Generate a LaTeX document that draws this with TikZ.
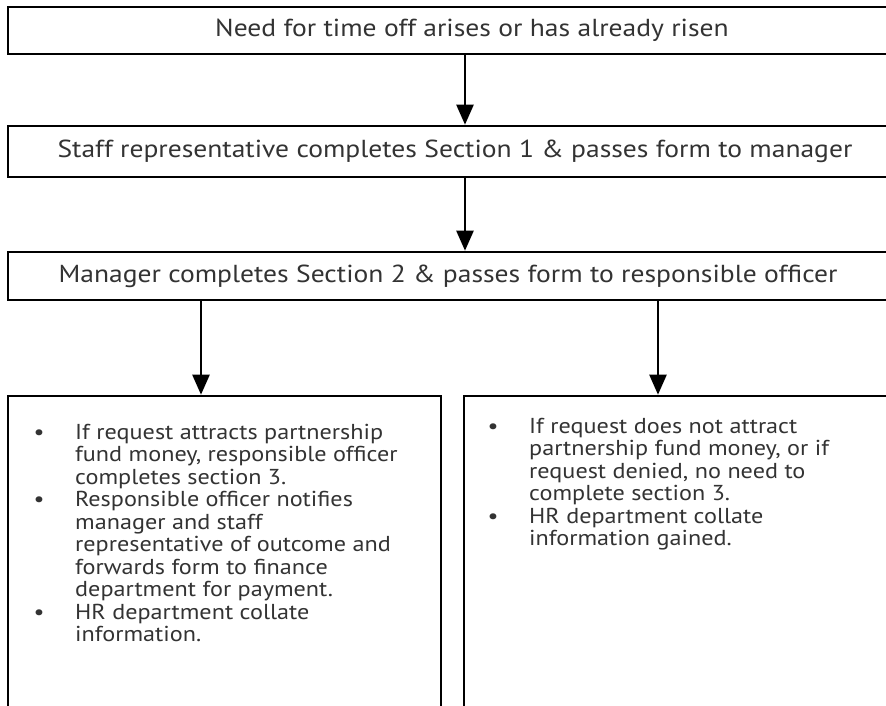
\documentclass[tikz,border=0pt]{standalone}
\usepackage{fontspec}
\setmainfont{PT Sans}[FakeStretch=1.12]
\usepackage{array}
\usetikzlibrary{arrows.meta}
\definecolor{txt}{RGB}{51,51,51}
\newcommand{\bulletmark}{\makebox[18pt]{•}}
\newcommand{\lline}[2]{#1 & \smash{#2}\\}
\begin{document}
\begin{tikzpicture}[x=1pt,y=-1pt,
  box/.style={draw=black, line width=2.6pt, inner sep=0pt},
  lbl/.style={text=txt, font=\fontsize{24.6}{30}\selectfont, inner sep=0pt},
  lst/.style={text=txt, font=\fontsize{21.6}{22.5}\selectfont, inner sep=0pt, anchor=north west},
  arr/.style={line width=2.4pt, -{Triangle[length=20pt,width=17pt]}}]
\useasboundingbox (0,0) rectangle (886,706);
\clip (0,0) rectangle (886,706);
\fill[white] (0,0) rectangle (886,706);
% boxes
\node[box, minimum width=914pt, minimum height=47pt] (box1) at (465,30.5) {};
\node[box, minimum width=914pt, minimum height=51pt] (box2) at (465,151.5) {};
\node[box, minimum width=914pt, minimum height=48pt] (box3) at (465,276) {};
\node[box, minimum width=433pt, minimum height=408pt] (lbox) at (224.5,600) {};
\node[box, minimum width=500pt, minimum height=408pt] (rbox) at (714,600) {};
% texts
\node[lbl] (t1) at (472,30.5) {Need for time off arises or has already risen};
\node[lbl] (t2) at (455,151.5) {Staff representative completes Section 1 \& passes form to manager};
\node[lbl] (t3) at (448,276) {Manager completes Section 2 \& passes form to responsible officer};
\node[lst] (ltx) at (30,423.25) {\begin{tabular}{@{}p{45pt}@{}l@{}}
\lline{\bulletmark}{If request attracts partnership}
\lline{}{fund money, responsible officer}
\lline{}{completes section 3.}
\lline{\bulletmark}{Responsible officer notifies}
\lline{}{manager and staff}
\lline{}{representative of outcome and}
\lline{}{forwards form to finance}
\lline{}{department for payment.}
\lline{\bulletmark}{HR department collate}
\lline{}{information.}
\end{tabular}};
\node[lst] (rtx) at (484,417.25) {\begin{tabular}{@{}p{45pt}@{}l@{}}
\lline{\bulletmark}{If request does not attract}
\lline{}{partnership fund money, or if}
\lline{}{request denied, no need to}
\lline{}{complete section 3.}
\lline{\bulletmark}{HR department collate}
\lline{}{information gained.}
\end{tabular}};
% connectors
\coordinate (lx) at (201,0);
\coordinate (rx) at (658,0);
\draw[arr] (box1.south) -- (box2.north);
\draw[arr] (box2.south) -- (box3.north);
\draw[arr] (box3.south -| lx) -- (lbox.north -| lx);
\draw[arr] (box3.south -| rx) -- (rbox.north -| rx);
\end{tikzpicture}
\end{document}
